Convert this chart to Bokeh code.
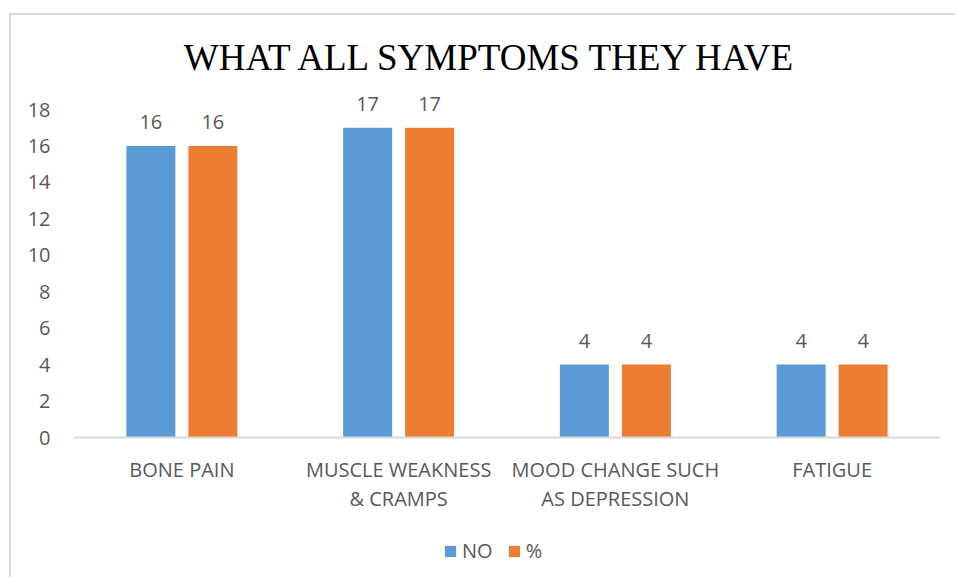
from bokeh.plotting import figure
from bokeh.models import (ColumnDataSource, FactorRange, Range1d, LabelSet, Legend,
                          LegendItem, Label, FixedTicker, Span)
from bokeh.transform import dodge
from bokeh.core.properties import value
from bokeh.embed import file_html
from bokeh.resources import INLINE

# Chart data
categories = ["BONE PAIN", "MUSCLE WEAKNESS & CRAMPS",
              "MOOD CHANGE SUCH AS DEPRESSION", "FATIGUE"]
label_line1 = ["BONE PAIN", "MUSCLE WEAKNESS", "MOOD CHANGE SUCH", "FATIGUE"]
label_line2 = ["", "& CRAMPS", "AS DEPRESSION", ""]
no_counts = [16, 17, 4, 4]
pct_values = [16, 17, 4, 4]
series_names = ["NO", "%"]
y_ticks = [0, 2, 4, 6, 8, 10, 12, 14, 16, 18]
title_text = "WHAT ALL SYMPTOMS THEY HAVE"

BLUE = "#5b9bd5"
ORANGE = "#ed7d31"
TEXT = "#595959"
LINE = "#d9d9d9"
FONT = "Open Sans"

# the chart box sits inside a light border, offset from the page corner
OX, OY = 9, 13
BORDER = 2
W, H = 957 - OX - BORDER, 579 - OY - BORDER
LEFT = 73 - OX - BORDER          # plot area starts at page x = 73
RIGHT = 17                       # plot area ends at page x = 940
ZERO_Y = 437                     # page y of the value 0
PX_PER_UNIT = 328 / 18.0         # 0..18 spans 328 px
Y_END = (ZERO_Y - OY - BORDER) / PX_PER_UNIT
Y_START = -(579 - ZERO_Y) / PX_PER_UNIT

source = ColumnDataSource(dict(
    cat=categories,
    no=no_counts,
    pct=pct_values,
    no_txt=[str(v) for v in no_counts],
    pct_txt=[str(v) for v in pct_values],
    line1=label_line1,
    line2=label_line2,
    base=[0] * len(categories),
))

p = figure(width=W, height=H, x_range=FactorRange(factors=categories),
           y_range=Range1d(Y_START, Y_END), output_backend="svg",
           toolbar_location=None, min_border_left=LEFT, min_border_right=RIGHT,
           min_border_top=0, min_border_bottom=0)
p.margin = (OY, 0, 0, OX)
p.styles = {"border-top": f"{BORDER}px solid {LINE}",
            "border-left": f"{BORDER}px solid {LINE}"}
p.outline_line_color = None
p.background_fill_color = "white"
p.border_fill_color = "white"
p.xgrid.grid_line_color = None
p.ygrid.grid_line_color = None
p.xaxis.visible = False

OFF = 0.143
BW = 0.226
r_no = p.vbar(x=dodge("cat", -OFF, range=p.x_range), top="no", width=BW,
              source=source, fill_color=BLUE, line_color=None)
r_pct = p.vbar(x=dodge("cat", OFF, range=p.x_range), top="pct", width=BW,
               source=source, fill_color=ORANGE, line_color=None)

# Category baseline
p.add_layout(Span(location=0, dimension="width", line_color=LINE, line_width=2))

# Value labels above the bars
for col, off in (("no", -OFF), ("pct", OFF)):
    p.add_layout(LabelSet(x=dodge("cat", off, range=p.x_range), y=col,
                          text=col + "_txt", source=source, text_align="center",
                          text_baseline="alphabetic", y_offset=17,
                          text_font=value(FONT), text_font_size="20px",
                          text_color=TEXT))

# Category labels (two lines where the name wraps)
for col, off in (("line1", 32), ("line2", 61)):
    p.text(x="cat", y="base", text=col, source=source, text_align="center",
           text_baseline="alphabetic", y_offset=off, text_font=value(FONT),
           text_font_size="20px", text_color=TEXT)

# Value axis
p.yaxis.ticker = FixedTicker(ticks=y_ticks)
p.yaxis.axis_line_color = None
p.yaxis.major_tick_line_color = None
p.yaxis.minor_tick_line_color = None
p.yaxis.major_tick_out = 0
p.yaxis.major_label_standoff = 23
p.yaxis.major_label_text_font = FONT
p.yaxis.major_label_text_font_size = "20px"
p.yaxis.major_label_text_color = TEXT

# Title
p.add_layout(Label(x=418, y=579 - 57, x_units="screen", y_units="screen",
                   text=title_text, text_align="center",
                   text_baseline="alphabetic", text_font="Liberation Serif",
                   text_font_size="37px", text_color="black"))

# Legend
legend = Legend(items=[LegendItem(label=series_names[0], renderers=[r_no]),
                       LegendItem(label=series_names[1], renderers=[r_pct])],
                orientation="horizontal", location=(370, 15),
                glyph_width=14, glyph_height=14, label_standoff=5, spacing=14,
                padding=0, margin=0, border_line_color=None,
                background_fill_alpha=0, label_text_font=FONT,
                label_text_font_size="20px", label_text_color=TEXT,
                label_height=20)
p.add_layout(legend, "center")

open("out.html", "w").write(file_html(p, INLINE))
